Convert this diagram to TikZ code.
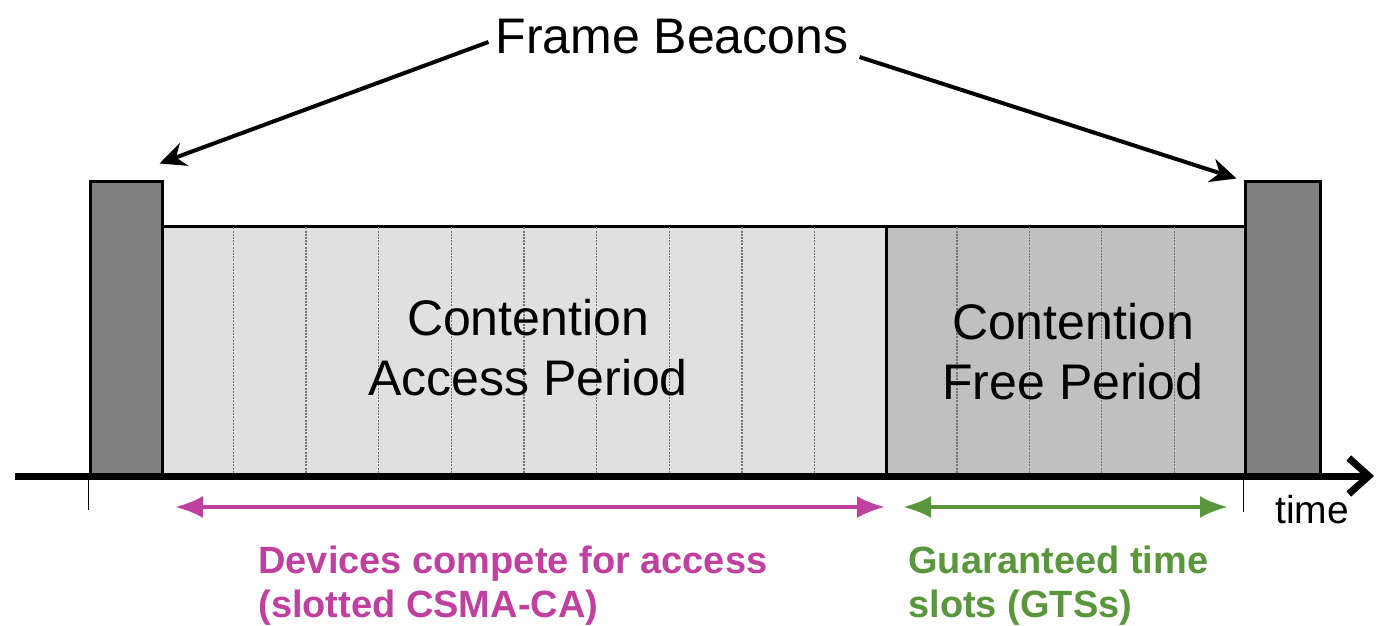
\documentclass[tikz,border=0pt]{standalone}
\usepackage{fontspec}
\setmainfont{Liberation Sans}
\usepackage{tikz}
\usetikzlibrary{arrows.meta,positioning,fit,calc}
\definecolor{beacongrey}{HTML}{808080}
\definecolor{capgrey}{HTML}{E0E0E0}
\definecolor{cfpgrey}{HTML}{C0C0C0}
\definecolor{capmagenta}{HTML}{C040A0}
\definecolor{gtsgreen}{HTML}{5A963C}
\tikzset{
  period/.style={rectangle,draw=black,line width=1.5pt,inner sep=0pt},
  beacon/.style={period,fill=beacongrey},
  slotline/.style={black!55,dash pattern=on 1pt off 0.6pt,line width=0.6pt,shorten <=1pt,shorten >=1pt},
  bigtext/.style={font=\fontsize{25}{30}\selectfont,align=center},
  pointer/.style={-{Stealth[length=13pt,width=12pt]},line width=2pt},
  periodspan/.style={{Latex[length=14pt,width=11pt]}-{Latex[length=14pt,width=11pt]},line width=2pt},
  note/.style={font=\fontsize{19}{22}\selectfont\bfseries,align=left,anchor=north west,inner sep=0pt}
}

\begin{document}
\begin{tikzpicture}[x=0.5pt,y=-0.5pt]
\useasboundingbox (0,0) rectangle (1383,626);

% superframe periods
\node[period,fill=capgrey,fit={(162,227) (886,476)}] (cap) {};
\node[period,fill=cfpgrey,fit={(886,227) (1245,476)}] (cfp) {};
\foreach \i in {1,...,9}
  \draw[slotline] ($(cap.north west)!\i/10!(cap.north east)$) -- ($(cap.south west)!\i/10!(cap.south east)$);
\foreach \i in {1,...,4}
  \draw[slotline] ($(cfp.north west)!\i/5!(cfp.north east)$) -- ($(cfp.south west)!\i/5!(cfp.south east)$);

% beacons
\node[beacon,fit={(90,182) (162,476)}] (beaconL) {};
\node[beacon,fit={(1245,182) (1320,476)}] (beaconR) {};

\node[bigtext] (captext) at (528,348) {Contention\\Access Period};
\node[bigtext] (cfptext) at (1073,352) {Contention\\Free Period};
\node[bigtext] (title) at (672,37) {Frame Beacons};

% time axis
\coordinate (t0) at (15,476);
\coordinate (t1) at (1374,476);
\draw[line width=3.5pt,-{Straight Barb[length=10pt,width=18pt]}] (t0) -- (t1);
\draw[line width=0.5pt] (beaconL.south west) -- ++(0,32);
\draw[line width=0.5pt] (beaconR.south west) -- ++(0,34);
\node[font=\fontsize{19.5}{22}\selectfont] (timelabel) at (1312,510) {time};

\draw[pointer] ([shift={(0,5)}]title.west) -- ([shift={(-4,-17)}]beaconL.north east);
\draw[pointer] ([shift={(4,20)}]title.east) -- ([shift={(-7,-2)}]beaconR.north west);

% access spans
\coordinate (capL) at (175,507);
\coordinate (capR) at (885,507);
\coordinate (cfpL) at (903,507);
\coordinate (cfpR) at (1228,507);
\draw[periodspan,capmagenta] (capL) -- (capR);
\draw[periodspan,gtsgreen] (cfpL) -- (cfpR);

\node[note,text=capmagenta] (capnote) at (258,546) {Devices compete for access\\(slotted CSMA-CA)};
\node[note,text=gtsgreen] (cfpnote) at (908,546) {Guaranteed time\\slots (GTSs)};
\end{tikzpicture}
\end{document}
